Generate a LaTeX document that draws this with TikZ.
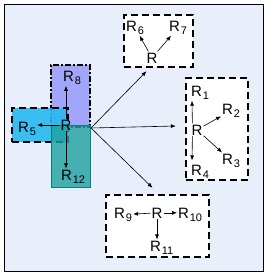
\documentclass[tikz,border=0pt]{standalone}
\usepackage{fontspec}
\setmainfont{Liberation Sans}
\usetikzlibrary{arrows.meta}
\definecolor{bgblue}{RGB}{232,238,250}
\definecolor{tealfill}{RGB}{30,160,160}
\newcommand{\Rn}[1]{R\kern0.8pt\raisebox{-3.5pt}{\fontsize{11}{12}\selectfont #1}}

\begin{document}
\begin{tikzpicture}[x=1pt,y=-1pt,
    lbl/.style={inner sep=1pt,font=\fontsize{15}{17}\selectfont},
    grp/.style={draw,fill=white,inner sep=0pt,line width=2.4pt,dash pattern=on 7pt off 4pt},
    arr/.style={-{Latex[length=5pt,width=4pt]},line width=0.6pt}]
        \useasboundingbox (0,0) rectangle (266,273);
        % Frame
            \filldraw[fill=bgblue,draw=black,line width=0.8pt] (4,4) rectangle (263,271);
        % Left cluster
            \node[draw,fill=blue,fill opacity=0.3,draw opacity=1,inner sep=0pt,line width=2pt,
                  dash pattern=on 6pt off 2pt on 2pt off 2pt,minimum width=39,minimum height=62] (bx8) at (70.5,96) {};
            \node[grp,fill=cyan!85!white,fill opacity=0.9,minimum width=56,minimum height=34] (bx5) at (40,125) {};
            \node[draw=teal,fill=tealfill,fill opacity=0.8,draw opacity=1,inner sep=0pt,line width=0.6pt,
                  minimum width=39,minimum height=62] (bx12) at (70.5,156) {};
            \node[lbl] (hL) at (66,125) {R};
            \node[lbl,anchor=base west] (r8) at (62,81) {\Rn{8}};
            \node[lbl,anchor=base west] (r5) at (17,132) {\Rn{5}};
            \node[lbl,anchor=base west] (r12) at (60,180) {\Rn{12}};
            \draw[arr] (hL) -- (hL |- r8.south);
            \draw[arr] (hL) -- (hL -| r5.east);
            \draw[arr] (hL) -- (hL |- r12.north);
        % Top group
            \node[grp,minimum width=69,minimum height=52] (gA) at (158.5,41) {};
            \node[lbl,anchor=base] (hA) at (152,63) {R};
            \node[lbl,anchor=base west] (r6) at (125,31) {\Rn{6}};
            \node[lbl,anchor=base west] (r7) at (168,31) {\Rn{7}};
            \draw[arr] (hA) -- (r6);
            \draw[arr] (hA) -- (r7);
        % Right group
            \node[grp,minimum width=62,minimum height=102] (gB) at (217,129) {};
            \node[lbl,anchor=base] (hB) at (197,135) {R};
            \node[lbl,anchor=base west] (r1) at (190,96) {\Rn{1}};
            \node[lbl,anchor=base west] (r2) at (221,114) {\Rn{2}};
            \node[lbl,anchor=base west] (r3) at (221,164) {\Rn{3}};
            \node[lbl,anchor=base west] (r4) at (190,175) {\Rn{4}};
            \draw[arr] ([xshift=2pt]hB.north west) -- ([xshift=2pt]r1.south west);
            \draw[arr] (hB) -- (r2);
            \draw[arr] (hB) -- (r3);
            \draw[arr,shorten >=3pt] ([xshift=2pt]hB.south west) -- ([xshift=2pt]r4.north west);
        % Bottom group
            \node[grp,minimum width=103,minimum height=62] (gC) at (157.5,226) {};
            \node[lbl,anchor=base] (hC) at (157,218) {R};
            \node[lbl,anchor=base west] (r9) at (113,218) {\Rn{9}};
            \node[lbl,anchor=base west] (r10) at (177,218) {\Rn{10}};
            \node[lbl,anchor=base west] (r11) at (149,251) {\Rn{11}};
            \draw[arr] (hC) -- (r9);
            \draw[arr] (hC) -- (hC -| r10.west);
            \draw[arr] (hC) -- (hC |- r11.north);
        % Links to the groups
            \coordinate (eA) at ([xshift=-12pt,yshift=-3pt]gA.south);
            \coordinate (eB) at ([xshift=-9pt,yshift=3pt]gB.west);
            \coordinate (eC) at ([xshift=-5pt,yshift=6pt]gC.north);
            \draw[arr] (bx8.south east) -- (eA);
            \draw[arr] (bx8.south east) -- (eB);
            \draw[arr] (bx8.south east) -- (eC);
    \end{tikzpicture}
\end{document}
